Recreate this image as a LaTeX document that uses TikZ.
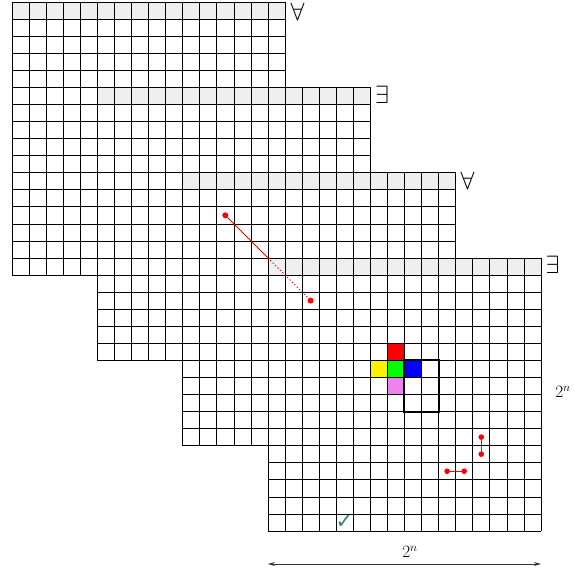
\documentclass[tikz,border=0pt]{standalone}
\usepackage{graphicx}
\usepackage{fontspec}
\newfontfamily\symfont{DejaVu Sans}
\usetikzlibrary{arrows.meta}
\definecolor{topgray}{HTML}{EFEFEF}
\definecolor{checkgreen}{HTML}{2E8B57}
\definecolor{violetcell}{HTML}{EE82EE}
\tikzset{
  gridline/.style={line width=0.55pt, black},
  nbox/.style={line width=2pt, black},
  quant/.style={inner sep=0pt, anchor=center},
  reddot/.style={fill=red, draw=none},
  redline/.style={red, line width=0.8pt},
  dimlabel/.style={inner sep=0pt, font=\LARGE},
  dimarrow/.style={line width=0.7pt, black!80, {Stealth[length=7pt,width=4pt]}-{Stealth[length=7pt,width=4pt]}}
}
\def\cs{17.0625}
\begin{document}
\begin{tikzpicture}[x=1pt, y=-1pt]
\useasboundingbox (0,0) rectangle (573,577);
\foreach \k in {0,...,3} {
  \begin{scope}[shift={(12+85.3125*\k, 2+85.3125*\k)}]
    \fill[white] (0,0) rectangle (273,273);
    \fill[topgray] (0,0) rectangle (273,\cs);
    \ifnum\k=3
      \fill[red]        (7*\cs,5*\cs) rectangle (8*\cs,6*\cs);
      \fill[yellow]     (6*\cs,6*\cs) rectangle (7*\cs,7*\cs);
      \fill[green]      (7*\cs,6*\cs) rectangle (8*\cs,7*\cs);
      \fill[blue]       (8*\cs,6*\cs) rectangle (9*\cs,7*\cs);
      \fill[violetcell] (7*\cs,7*\cs) rectangle (8*\cs,8*\cs);
    \fi
    \foreach \i in {0,...,16} {
      \draw[gridline] (\i*\cs,0) -- (\i*\cs,273);
      \draw[gridline] (0,\i*\cs) -- (273,\i*\cs);
    }
  \end{scope}
}
% neighbourhood box in the last grid
\coordinate (bx1) at (267.9375+8*\cs, 257.9375+6*\cs);
\coordinate (bx2) at (267.9375+10*\cs, 257.9375+9*\cs);
\draw[nbox] (bx1) rectangle (bx2);
% quantifier labels
\node[quant] (q1) at (297.5,12)  {\scalebox{2.5}{$\forall$}};
\node[quant] (q2) at (382,95)  {\scalebox{2.5}{$\exists$}};
\node[quant] (q3) at (467.5,181) {\scalebox{2.5}{$\forall$}};
\node[quant] (q4) at (552.5,265) {\scalebox{2.5}{$\exists$}};
% red connection across layers
\coordinate (p3) at (182.625+2.5*\cs, 172.625+2.5*\cs);
\coordinate (c4) at (267.9375, 257.9375);
\coordinate (p4) at (267.9375+2.5*\cs, 257.9375+2.5*\cs);
\draw[redline] (p3) -- (c4);
\draw[red, line width=1pt, dash pattern=on 1.2pt off 2.2pt] (c4) -- (p4);
\fill[reddot] (p3) circle (3pt);
\fill[reddot] (p4) circle (3pt);
% red segments in last grid
\coordinate (v1) at (267.9375+12.5*\cs, 257.9375+10.5*\cs);
\coordinate (v2) at (267.9375+12.5*\cs, 257.9375+11.5*\cs);
\coordinate (h1) at (267.9375+10.5*\cs, 257.9375+12.5*\cs);
\coordinate (h2) at (267.9375+11.5*\cs, 257.9375+12.5*\cs);
\draw[redline] (v1) -- (v2);
\draw[redline] (h1) -- (h2);
\foreach \p in {v1,v2,h1,h2} \fill[reddot] (\p) circle (2.8pt);
% check mark
\node[inner sep=0pt, text=checkgreen, font=\symfont\fontsize{21}{21}\selectfont] (chk) at (344.5,522) {✓};
% dimension labels
\coordinate (a1) at (267.9375,564);
\coordinate (a2) at (540.9375,564);
\draw[dimarrow] (a1) -- (a2);
\node[dimlabel] (bw) at (410,552) {$2^n$};
\node[dimlabel] (rh) at (563,392) {$2^n$};
\end{tikzpicture}
\end{document}
